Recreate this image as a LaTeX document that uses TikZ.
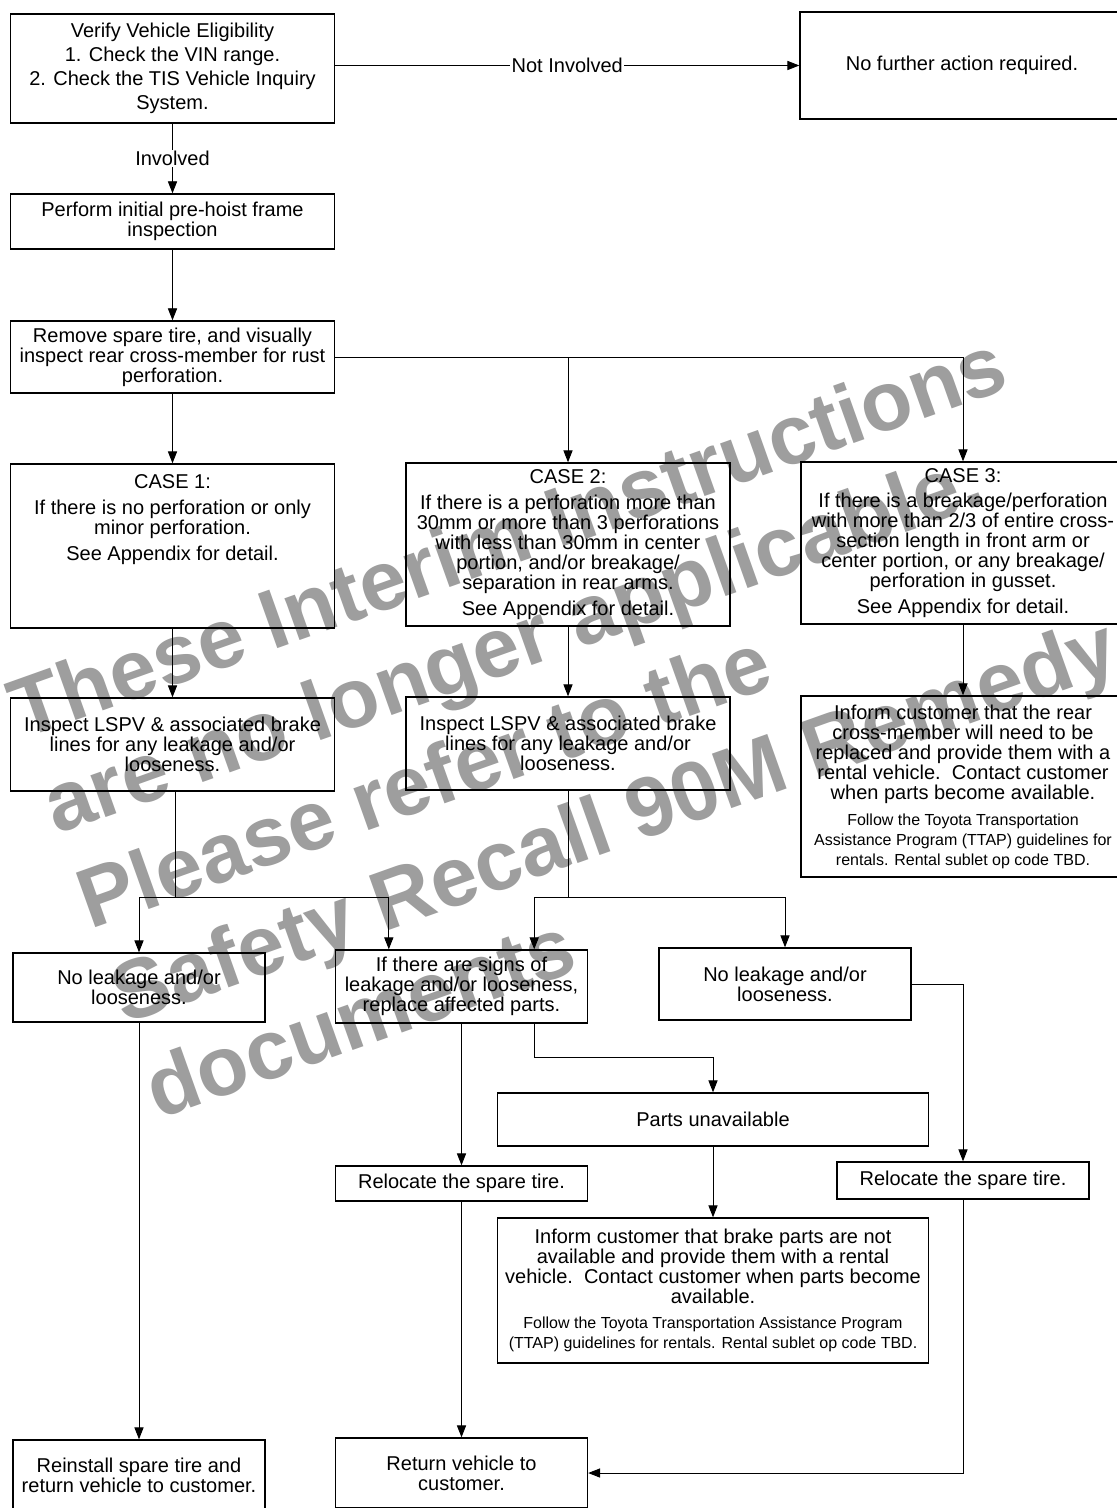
\documentclass[tikz,border=0pt]{standalone}
\usepackage{fontspec}
\setmainfont{Liberation Sans}
\usetikzlibrary{arrows.meta}
\newcommand{\smalltxt}{\fontsize{8}{10}\selectfont}

\begin{document}
\begin{tikzpicture}[x=0.5pt,y=-0.5pt,
  box/.style={draw,line width=0.7pt,rectangle,align=center,inner sep=0pt,font=\fontsize{10}{10}\selectfont},
  wide/.style={box,minimum width=162pt},
  narrow/.style={box,minimum width=126pt},
  mid/.style={box,minimum width=215.5pt},
  flow/.style={line width=0.45pt,-{Triangle[length=6pt,width=4.6pt]}},
  tag/.style={fill=white,inner sep=0.6pt,font=\fontsize{10}{10}\selectfont},
  wmark/.style={anchor=base west,rotate=19.6,inner sep=0pt,text=black!38,font=\fontsize{42}{50}\selectfont\bfseries}]
\useasboundingbox[fill=white] (0,0) rectangle (1117,1508);

% watermark
\node[wmark] (wm1) at (22,740) {These Interim Instructions};
\node[wmark] (wm2) at (56,835) {are no longer applicable.};
\node[wmark] (wm3) at (90,930) {Please refer to the};
\node[wmark] (wm4) at (124,1025) {Safety Recall 90M Remedy};
\node[wmark] (wm5) at (158,1120) {documents};

% boxes
\node[wide,minimum height=54.5pt,font=\fontsize{10}{12}\selectfont] (verify) at (172.5,68.5) {Verify Vehicle Eligibility\\1. Check the VIN range.\\2. Check the TIS Vehicle Inquiry\\System.};
\node[wide,minimum height=53.5pt] (nofurther) at (962,65.5) {No further action required.};
\node[wide,minimum height=27.5pt] (prehoist) at (172.5,221.5) {Perform initial pre-hoist frame\\inspection};
\node[wide,minimum height=36pt] (remove) at (172.5,357) {Remove spare tire, and visually\\inspect rear cross-member for rust\\perforation.};
\node[wide,minimum height=82pt] (case1) at (172.5,546) {CASE 1:\\[3pt]If there is no perforation or only\\minor perforation.\\[3pt]See Appendix for detail.\\[18pt]\mbox{}};
\node[wide,minimum height=81.5pt] (case2) at (568,544.5) {CASE 2:\\[3pt]If there is a perforation more than\\30mm or more than 3 perforations\\with less than 30mm in center\\portion, and/or breakage/\\separation in rear arms.\\[3pt]See Appendix for detail.};
\node[wide,minimum height=81pt] (case3) at (963,543) {CASE 3:\\[2.5pt]If there is a breakage/perforation\\with more than 2/3 of entire cross-\\section length in front arm or\\center portion, or any breakage/\\perforation in gusset.\\[3pt]See Appendix for detail.};
\node[wide,minimum height=46.5pt] (lspv1) at (172.5,744.5) {Inspect LSPV \& associated brake\\lines for any leakage and/or\\looseness.};
\node[wide,minimum height=46.5pt] (lspv2) at (568,743.5) {Inspect LSPV \& associated brake\\lines for any leakage and/or\\looseness.};
\node[wide,minimum height=90.5pt] (inform1) at (963,786.5) {Inform customer that the rear\\cross-member will need to be\\replaced and provide them with a\\rental vehicle.\ \ Contact customer\\when parts become available.\\[3pt]{\smalltxt Follow the Toyota Transportation}\\{\smalltxt Assistance Program (TTAP) guidelines for}\\{\smalltxt rentals. Rental sublet op code TBD.}};
\node[narrow,minimum height=34.5pt] (noleak1) at (139,987.5) {No leakage and/or\\looseness.};
\node[narrow,minimum height=36.5pt] (signs) at (461.5,986.5) {If there are signs of\\leakage and/or looseness,\\replace affected parts.};
\node[narrow,minimum height=36pt] (noleak2) at (785,984) {No leakage and/or\\looseness.};
\node[mid,minimum height=26.5pt] (partsunav) at (713,1119.5) {Parts unavailable};
\node[narrow,minimum height=17.5pt] (relocate1) at (461.5,1183.5) {Relocate the spare tire.};
\node[narrow,minimum height=18.5pt] (relocate2) at (963,1180.5) {Relocate the spare tire.};
\node[mid,minimum height=72.5pt] (inform2) at (713,1290.5) {Inform customer that brake parts are not\\available and provide them with a rental\\vehicle.\ \ Contact customer when parts become\\available.\\[2.5pt]{\smalltxt Follow the Toyota Transportation Assistance Program}\\{\smalltxt (TTAP) guidelines for rentals. Rental sublet op code TBD.}};
\node[narrow,minimum height=35pt] (reinstall) at (139,1475) {Reinstall spare tire and\\return vehicle to customer.};
\node[narrow,minimum height=35pt] (return) at (461.5,1473) {Return vehicle to\\customer.};

% junctions
\coordinate (split1) at (175,897);
\coordinate (split2) at (568,897);
\coordinate (split3) at (713,1057);

% connectors
\draw[flow] (verify.east |- nofurther) -- node[tag] (notinv) {Not Involved} (nofurther.west);
\draw[flow] (verify) -- node[tag] (inv) {Involved} (prehoist);
\draw[flow] (prehoist) -- (remove);
\draw[flow] (remove) -- (case1);
\draw[flow] (remove.east) -| (case3.north);
\draw[flow] (remove.east -| case2.north) -- (case2.north);
\draw[flow] (case1) -- (lspv1);
\draw[flow] (case2) -- (lspv2);
\draw[flow] (case3) -- (inform1);
\draw[line width=0.45pt] (lspv1.south -| split1) -- (split1);
\draw[flow] (split1) -| (noleak1.north);
\draw[flow] (split1) -| ([xshift=27pt]signs.north west);
\draw[line width=0.45pt] (lspv2) -- (split2);
\draw[flow] (split2) -| ([xshift=-27pt]signs.north east);
\draw[flow] (split2) -| (noleak2.north);
\draw[flow] (noleak1) -- (reinstall);
\draw[flow] (signs) -- (relocate1);
\draw[flow] ([xshift=-27pt]signs.south east) |- (split3) -- (partsunav.north);
\draw[flow] (noleak2.east) -| (relocate2.north);
\draw[flow] (partsunav) -- (inform2);
\draw[flow] (relocate1) -- (return);
\draw[flow] (relocate2.south) |- (return.east);

\end{tikzpicture}
\end{document}
